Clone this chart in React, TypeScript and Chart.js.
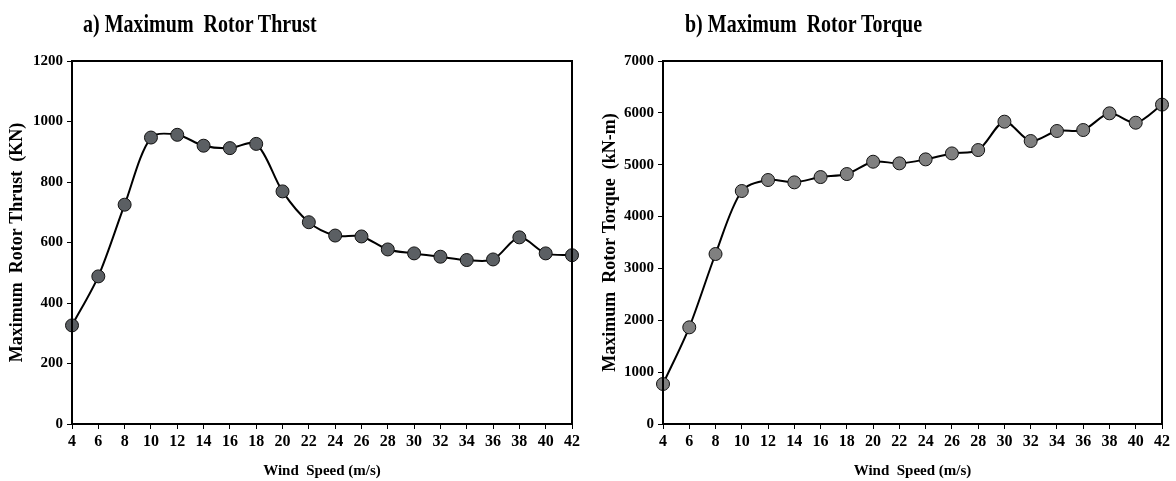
import React, { useEffect, useRef } from "react";
import { Chart, registerables } from "chart.js";

Chart.register(...registerables);

const windSpeeds = [4, 6, 8, 10, 12, 14, 16, 18, 20, 22, 24, 26, 28, 30, 32, 34, 36, 38, 40, 42];
const thrustValues = [326, 488, 725, 947, 956, 920, 912, 926, 769, 667, 623, 620, 577, 564, 553, 542, 544, 617, 564, 558];
const torqueValues = [771, 1864, 3278, 4493, 4705, 4660, 4762, 4820, 5058, 5026, 5103, 5218, 5283, 5830, 5457, 5650, 5669, 5991, 5810, 6159];

const thrustTitle = "a) Maximum  Rotor Thrust";
const torqueTitle = "b) Maximum  Rotor Torque";
const thrustAxisTitle = "Maximum  Rotor Thrust  (KN)";
const torqueAxisTitle = "Maximum  Rotor Torque  (kN-m)";
const xAxisTitle = "Wind  Speed (m/s)";

const FONT = '"Liberation Serif", "Times New Roman", serif';

const boxPlugin = {
  id: "box",
  afterDatasetsDraw(chart: any) {
    const { ctx, chartArea } = chart;
    ctx.save();
    ctx.strokeStyle = "#000";
    ctx.lineWidth = 2;
    ctx.strokeRect(chartArea.left, chartArea.top, chartArea.right - chartArea.left, chartArea.bottom - chartArea.top);
    ctx.restore();
  },
};

type PanelProps = {
  values: number[];
  yMax: number;
  yStep: number;
  axisTitle: string;
  pointColor: string;
  yWidth: number;
  rightPad: number;
  yTitlePad: number;
};

function Panel(p: PanelProps) {
  const ref = useRef<HTMLCanvasElement>(null);
  useEffect(() => {
    if (!ref.current) return;
    const chart = new Chart(ref.current, {
      type: "line",
      data: {
        datasets: [
          {
            data: windSpeeds.map((x, i) => ({ x, y: p.values[i] })),
            borderColor: "#000",
            borderWidth: 2,
            tension: 0.3,
            pointRadius: 6.5,
            pointBackgroundColor: p.pointColor,
            pointBorderColor: "#111",
            pointBorderWidth: 1,
            clip: false as any,
          },
        ],
      },
      options: {
        animation: false,
        responsive: false,
        layout: { padding: { left: 0, right: p.rightPad, top: 61, bottom: 0 } },
        plugins: { legend: { display: false }, tooltip: { enabled: false }, title: { display: false } },
        scales: {
          x: {
            type: "linear",
            min: 4,
            max: 42,
            afterFit: (s: any) => {
              s.height = 57;
            },
            ticks: {
              stepSize: 2,
              color: "#000",
              font: { family: FONT, size: 16, weight: "bold" },
              padding: 3,
              maxRotation: 0,
              callback: (v: any) => String(v),
            },
            grid: { drawOnChartArea: false, drawTicks: true, tickLength: 5, color: "#000" },
            border: { color: "#000", width: 2 },
            title: {
              display: true,
              text: xAxisTitle,
              color: "#000",
              font: { family: FONT, size: 15, weight: "bold" },
              padding: { top: 2, bottom: 1 },
            },
          },
          y: {
            type: "linear",
            min: 0,
            max: p.yMax,
            afterFit: (s: any) => {
              s.width = p.yWidth;
            },
            ticks: {
              stepSize: p.yStep,
              color: "#000",
              font: { family: FONT, size: 15, weight: "bold" },
              padding: 4,
              callback: (v: any) => String(v),
            },
            grid: { drawOnChartArea: false, drawTicks: true, tickLength: 5, color: "#000" },
            border: { color: "#000", width: 2 },
            title: {
              display: true,
              text: p.axisTitle,
              color: "#000",
              font: { family: FONT, size: 18, weight: "bold" },
              padding: { top: p.yTitlePad, bottom: 2 },
            },
          },
        },
      },
      plugins: [boxPlugin],
    });
    return () => chart.destroy();
  }, []);
  return <canvas ref={ref} width={590} height={481} style={{ display: "block" }} />;
}

export default function App() {
  const titleStyle: React.CSSProperties = {
    position: "absolute",
    top: 8,
    fontFamily: FONT,
    fontWeight: "bold",
    fontSize: 20,
    whiteSpace: "pre",
    color: "#000",
    transform: "scaleY(1.25)",
    transformOrigin: "left top",
    lineHeight: "24px",
  };
  return (
    <div style={{ position: "absolute", left: 0, top: 0, width: 1176, height: 481, background: "#fff", overflow: "hidden" }}>
      <div style={{ position: "absolute", left: 0, top: 0, width: 590, height: 481 }}>
        <Panel values={thrustValues} yMax={1200} yStep={200} axisTitle={thrustAxisTitle} pointColor="#5b5f63" yWidth={72} rightPad={18} yTitlePad={7} />
      </div>
      <div style={{ position: "absolute", left: 590, top: 0, width: 590, height: 481 }}>
        <Panel values={torqueValues} yMax={7000} yStep={1000} axisTitle={torqueAxisTitle} pointColor="#808080" yWidth={73} rightPad={18} yTitlePad={10} />
      </div>
      <div style={{ ...titleStyle, left: 83 }}>{thrustTitle}</div>
      <div style={{ ...titleStyle, left: 685 }}>{torqueTitle}</div>
    </div>
  );
}
